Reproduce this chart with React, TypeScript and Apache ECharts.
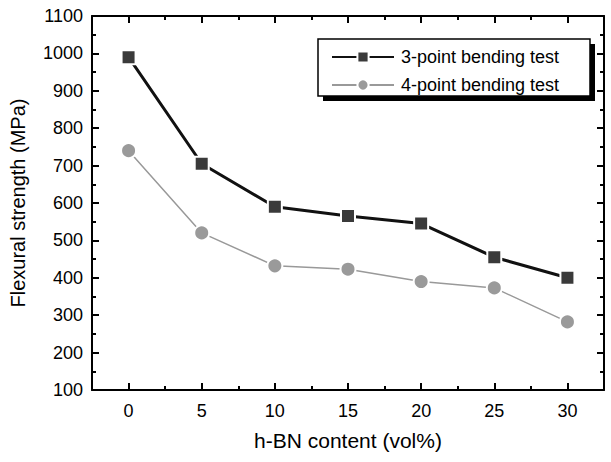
import React, { useEffect, useRef } from "react";
import * as echarts from "echarts";

const xValues = [0, 5, 10, 15, 20, 25, 30];
const threePoint = [990, 705, 590, 565, 545, 455, 400];
const fourPoint = [740, 520, 432, 423, 390, 373, 282];
const majorX = [0, 5, 10, 15, 20, 25, 30];
const minorX = [2.5, 7.5, 12.5, 17.5, 22.5, 27.5];
const minorY = [150, 250, 350, 450, 550, 650, 750, 850, 950, 1050];
const seriesNames = ["3-point bending test", "4-point bending test"];
const xTitle = "h-BN content (vol%)";
const yTitle = "Flexural strength (MPa)";

const FONT = "Liberation Sans, Arial, sans-serif";

export default function App() {
  const ref = useRef<HTMLDivElement>(null);
  useEffect(() => {
    if (!ref.current) return;
    const chart = echarts.init(ref.current, null, { renderer: "svg" });
    const tickLine = { color: "#000", width: 2 };
    const baseX = {
      type: "value",
      min: -2.5,
      max: 32.5,
      splitLine: { show: false },
    };
    const xAxes: any[] = [
      {
        ...baseX,
        position: "bottom",
        name: xTitle,
        nameLocation: "middle",
        nameGap: 40,
        nameTextStyle: { fontFamily: FONT, fontSize: 21, color: "#000" },
        axisLine: { onZero: false, lineStyle: { color: "#000", width: 2 } },
        axisTick: { inside: true, length: 7, customValues: majorX, lineStyle: tickLine },
        axisLabel: { customValues: majorX, fontFamily: FONT, fontSize: 18, color: "#000", margin: 12 },
      },
      {
        ...baseX,
        position: "bottom",
        axisLine: { show: false, onZero: false },
        axisTick: { inside: true, length: 4, customValues: minorX, lineStyle: tickLine },
        axisLabel: { show: false },
      },
      {
        ...baseX,
        position: "top",
        axisLine: { onZero: false, lineStyle: { color: "#000", width: 2 } },
        axisTick: { inside: true, length: 7, customValues: majorX, lineStyle: tickLine },
        axisLabel: { show: false },
      },
      {
        ...baseX,
        position: "top",
        axisLine: { show: false, onZero: false },
        axisTick: { inside: true, length: 4, customValues: minorX, lineStyle: tickLine },
        axisLabel: { show: false },
      },
    ];
    const baseY = {
      type: "value",
      min: 100,
      max: 1100,
      splitLine: { show: false },
    };
    const yAxes: any[] = [
      {
        ...baseY,
        interval: 100,
        position: "left",
        name: yTitle,
        nameLocation: "middle",
        nameGap: 64,
        nameTextStyle: { fontFamily: FONT, fontSize: 20, color: "#000" },
        axisLine: { onZero: false, lineStyle: { color: "#000", width: 2 } },
        axisTick: { inside: true, length: 7, lineStyle: tickLine },
        axisLabel: { fontFamily: FONT, fontSize: 18, color: "#000", margin: 9, formatter: (v: number) => String(v) },
      },
      {
        ...baseY,
        position: "left",
        axisLine: { show: false, onZero: false },
        axisTick: { inside: true, length: 4, customValues: minorY, lineStyle: tickLine },
        axisLabel: { show: false },
      },
      {
        ...baseY,
        interval: 100,
        position: "right",
        axisLine: { onZero: false, lineStyle: { color: "#000", width: 2 } },
        axisTick: { inside: true, length: 7, lineStyle: tickLine },
        axisLabel: { show: false },
      },
      {
        ...baseY,
        position: "right",
        axisLine: { show: false, onZero: false },
        axisTick: { inside: true, length: 4, customValues: minorY, lineStyle: tickLine },
        axisLabel: { show: false },
      },
    ];
    chart.setOption({
      animation: false,
      backgroundColor: "#fff",
      grid: { left: 92, right: 7, top: 16, bottom: 72 },
      xAxis: xAxes,
      yAxis: yAxes,
      graphic: [
        { type: "rect", z: 1, shape: { x: 323, y: 44, width: 272, height: 57 }, style: { fill: "#000" } },
        { type: "rect", z: 2, shape: { x: 318, y: 39, width: 272, height: 57 }, style: { fill: "#fff", stroke: "#000", lineWidth: 1.5 } },
      ],
      legend: {
        z: 10,
        orient: "vertical",
        left: 326,
        top: 43,
        itemWidth: 62,
        itemHeight: 14,
        itemGap: 10,
        textStyle: { fontFamily: FONT, fontSize: 18, color: "#000", padding: [0, 0, 0, 2] },
        data: seriesNames,
      },
      series: [
        {
          name: seriesNames[0],
          type: "line",
          data: xValues.map((x, i) => [x, threePoint[i]]),
          symbol: "rect",
          symbolSize: 14,
          itemStyle: { color: "#3a3a3a", borderColor: "#fff", borderWidth: 2 },
          lineStyle: { color: "#111", width: 3 },
          z: 3,
        },
        {
          name: seriesNames[1],
          type: "line",
          data: xValues.map((x, i) => [x, fourPoint[i]]),
          symbol: "circle",
          symbolSize: 15,
          itemStyle: { color: "#9a9a9a", borderColor: "#fff", borderWidth: 2 },
          lineStyle: { color: "#999", width: 1.5 },
          z: 2,
        },
      ],
    });
    return () => chart.dispose();
  }, []);
  return <div ref={ref} style={{ width: 611, height: 462, position: "absolute", left: 0, top: 0 }} />;
}
